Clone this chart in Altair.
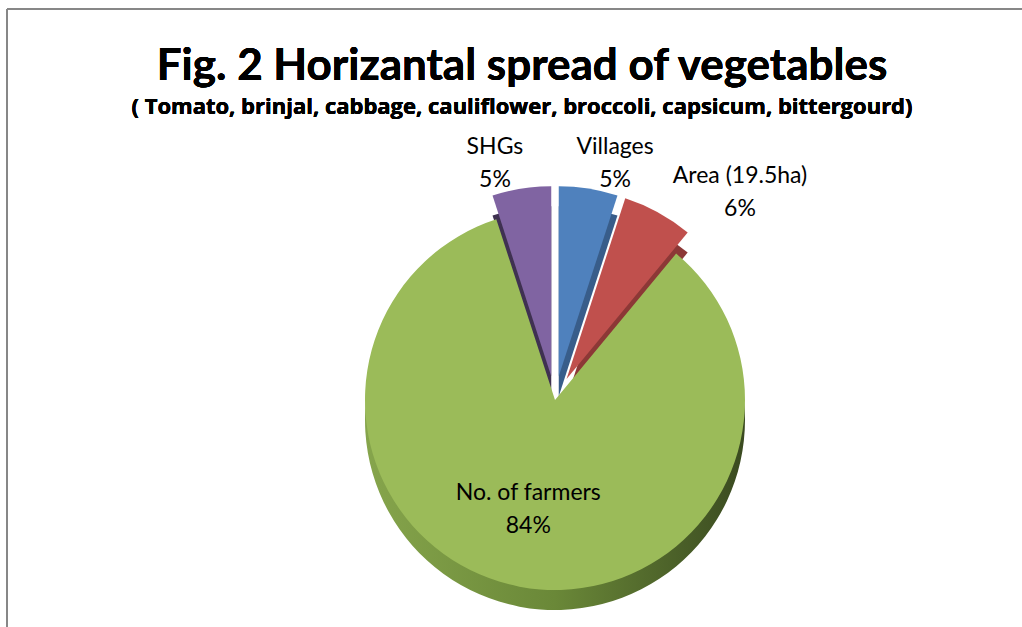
import altair as alt
import pandas as pd

categories = ["Villages", "Area (19.5ha)", "No. of farmers", "SHGs"]
values = [5, 6, 84, 5]
pct_labels = ["5%", "6%", "84%", "5%"]
top_colors = ["#4F81BD", "#C0504D", "#9BBB59", "#8064A2"]
side_colors = ["#385D8A", "#8C3836", "#5E7530", "#3F3151"]

title_text = "Fig. 2 Horizantal spread of vegetables"
subtitle_text = "( Tomato, brinjal, cabbage, cauliflower, broccoli, capsicum, bittergourd)"

df = pd.DataFrame({"category": categories, "value": values,
                   "pct": pct_labels, "order": list(range(len(categories)))})

CX, CY, R, DEPTH, EXPLODE = 555, 400, 190, 20, 24
FONT = "Lato"

base = alt.Chart(df).transform_joinaggregate(
    total="sum(value)"
).transform_window(
    cum="sum(value)", sort=[alt.SortField("order")], frame=[None, 0]
).transform_calculate(
    t1="2*PI*datum.cum/datum.total",
    t0="2*PI*(datum.cum-datum.value)/datum.total",
).transform_calculate(
    mid="(datum.t0+datum.t1)/2",
    ex=f"datum.value/datum.total < 0.5 ? {EXPLODE} : 0",
).transform_calculate(
    px=f"{CX} + datum.ex*sin(datum.mid)",
    py=f"{CY} - datum.ex*cos(datum.mid)",
    lr=f"datum.ex > 0 ? {R}+datum.ex+42 : {R}*0.5",
    label="datum.category + '\\n' + datum.pct",
).transform_calculate(
    pys=f"datum.py + {DEPTH}",
    lx=f"{CX} + datum.lr*sin(datum.mid)*1.5",
    ly=f"{CY} - datum.lr*cos(datum.mid)",
)

enc = dict(
    theta=alt.Theta("t0:Q", scale=None),
    theta2=alt.Theta2("t1:Q"),
    x=alt.X("px:Q", scale=None),
)

side_small = base.transform_filter("datum.ex > 0").mark_arc(radius=R).encode(
    y=alt.Y("pys:Q", scale=None),
    color=alt.Color("category:N", scale=alt.Scale(domain=categories, range=side_colors), legend=None),
    **enc,
)

side_big = base.transform_filter("datum.ex == 0").mark_arc(
    radius=R,
    fill=alt.Gradient(
        gradient="linear", x1=0, x2=1, y1=0, y2=0,
        stops=[alt.GradientStop(offset=0, color="#86A54C"),
               alt.GradientStop(offset=0.5, color="#6A8838"),
               alt.GradientStop(offset=1, color="#3A4A20")],
    ),
).encode(y=alt.Y("pys:Q", scale=None), **enc)

top = base.mark_arc(radius=R).encode(
    y=alt.Y("py:Q", scale=None),
    fill=alt.Fill("category:N", scale=alt.Scale(domain=categories, range=top_colors), legend=None),
    **enc,
)

labels = base.mark_text(font=FONT, fontSize=23, lineBreak="\n", lineHeight=33,
                        color="black", align="center", baseline="middle").encode(
    x=alt.X("lx:Q", scale=None),
    y=alt.Y("ly:Q", scale=None),
    text="label:N",
)

title = alt.Chart(df).mark_text(font=FONT, fontSize=44, fontWeight="bold", color="black",
                                align="center", baseline="alphabetic").encode(
    x=alt.value(522), y=alt.value(80), text=alt.value(title_text))
subtitle = alt.Chart(df).mark_text(font="Open Sans", fontSize=22, fontWeight="bold", color="black",
                                   align="center", baseline="alphabetic").encode(
    x=alt.value(522), y=alt.value(114), text=alt.value(subtitle_text))

frame_left = alt.Chart(df).mark_rule(color="#878787", strokeWidth=2).encode(
    x=alt.value(7), y=alt.value(9), y2=alt.value(640))
frame_top = alt.Chart(df).mark_rule(color="#878787", strokeWidth=2).encode(
    x=alt.value(7), x2=alt.value(1022), y=alt.value(9))

chart = alt.layer(side_big, side_small, top, labels, title, subtitle,
                  frame_left, frame_top).resolve_scale(
    color="independent", fill="independent"
).properties(
    width=1022, height=627,
    padding=0,
    autosize=alt.AutoSizeParams(type="none"),
    background="white",
).configure_view(stroke=None)

chart.save("out.html", embed_options={"renderer": "svg", "actions": False})
